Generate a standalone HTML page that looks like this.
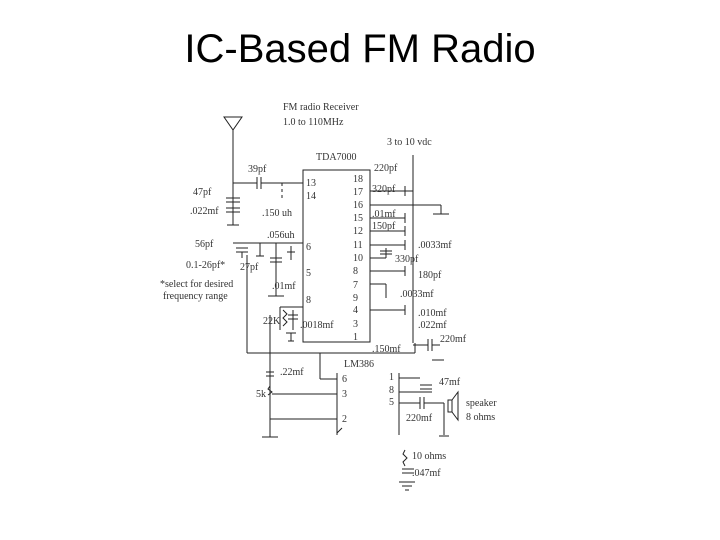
<!DOCTYPE html>
<html><head><style>
body{margin:0;background:#fff;}
svg{display:block;font-family:"Liberation Sans",sans-serif;}
.t{font-family:"Liberation Serif",serif;font-size:10px;fill:#333;}
</style></head><body>
<svg width="720" height="540" viewBox="0 0 720 540">
<text x="360" y="62" text-anchor="middle" font-size="40" fill="#000">IC-Based FM Radio</text>
<g stroke="#222" stroke-width="1" fill="none">
<polygon points="224,117 242,117 233,130"/>
<line x1="233" y1="130" x2="233" y2="225"/>
<line x1="227" y1="225" x2="239" y2="225"/>
<line x1="226" y1="198" x2="240" y2="198"/><line x1="226" y1="202" x2="240" y2="202"/>
<line x1="226" y1="208" x2="240" y2="208"/><line x1="226" y1="212" x2="240" y2="212"/>
<line x1="233" y1="183" x2="257" y2="183"/><line x1="257" y1="177" x2="257" y2="189"/>
<line x1="261" y1="177" x2="261" y2="189"/><line x1="261" y1="183" x2="303" y2="183"/>
<path d="M282 183 v18" stroke-dasharray="3,3"/>
<rect x="303" y="170" width="67" height="172"/>
<line x1="370" y1="191" x2="413" y2="191"/><line x1="370" y1="205" x2="413" y2="205"/>
<line x1="370" y1="218" x2="405" y2="218"/><line x1="370" y1="231" x2="405" y2="231"/>
<line x1="370" y1="245" x2="405" y2="245"/><line x1="370" y1="258" x2="386" y2="258"/>
<line x1="386" y1="248" x2="386" y2="258"/><line x1="380" y1="251" x2="392" y2="251"/><line x1="380" y1="254" x2="392" y2="254"/>
<line x1="370" y1="271" x2="405" y2="271"/><line x1="370" y1="284" x2="386" y2="284"/>
<line x1="386" y1="284" x2="386" y2="298"/>
<line x1="370" y1="310" x2="405" y2="310"/>
<line x1="405" y1="186" x2="405" y2="196"/><line x1="405" y1="213" x2="405" y2="223"/>
<line x1="405" y1="226" x2="405" y2="236"/><line x1="405" y1="240" x2="405" y2="250"/>
<line x1="405" y1="266" x2="405" y2="276"/><line x1="405" y1="305" x2="405" y2="315"/>
<line x1="413" y1="155" x2="413" y2="343"/>
<line x1="413" y1="205" x2="441" y2="205"/><line x1="441" y1="205" x2="441" y2="214"/>
<line x1="433" y1="214" x2="449" y2="214"/>
<line x1="413" y1="345" x2="428" y2="345"/><line x1="428" y1="339" x2="428" y2="351"/>
<line x1="432" y1="339" x2="432" y2="351"/><line x1="432" y1="345" x2="440" y2="345"/>
<line x1="415" y1="343" x2="415" y2="353"/>
<line x1="432" y1="360" x2="444" y2="360"/>
<line x1="233" y1="243" x2="303" y2="243"/>
<line x1="236" y1="248" x2="248" y2="248"/><line x1="236" y1="252" x2="248" y2="252"/>
<line x1="242" y1="252" x2="242" y2="258"/>
<line x1="247" y1="255" x2="247" y2="353"/>
<line x1="260" y1="243" x2="260" y2="256"/>
<line x1="256" y1="256" x2="264" y2="256"/>
<line x1="276" y1="243" x2="276" y2="296"/>
<line x1="270" y1="258" x2="282" y2="258"/><line x1="270" y1="262" x2="282" y2="262"/>
<line x1="268" y1="296" x2="284" y2="296"/>
<line x1="291" y1="246" x2="291" y2="260"/><line x1="287" y1="252" x2="295" y2="252"/>
<line x1="247" y1="353" x2="415" y2="353"/>
<line x1="280" y1="307" x2="303" y2="307"/>
<line x1="280" y1="307" x2="280" y2="330"/>
<line x1="270" y1="315" x2="270" y2="437"/>
<path d="M283 310 l4 4 l-4 4 l4 4 l-4 4"/>
<line x1="293" y1="310" x2="293" y2="330"/>
<line x1="288" y1="315" x2="298" y2="315"/><line x1="288" y1="319" x2="298" y2="319"/>
<line x1="286" y1="333" x2="296" y2="333"/>
<line x1="291" y1="333" x2="291" y2="341"/><line x1="288" y1="341" x2="294" y2="341"/>
<line x1="266" y1="372" x2="274" y2="372"/><line x1="266" y1="376" x2="274" y2="376"/>
<path d="M270 386 l-2 3 l4 3 l-4 3"/>
<line x1="272" y1="394" x2="337" y2="394"/>
<line x1="270" y1="419" x2="337" y2="419"/>
<line x1="262" y1="437" x2="278" y2="437"/>
<line x1="320" y1="353" x2="320" y2="379"/><line x1="320" y1="379" x2="337" y2="379"/>
<line x1="337" y1="373" x2="337" y2="435"/>
<line x1="337" y1="433" x2="342" y2="428"/>
<line x1="399" y1="373" x2="399" y2="435"/>
<line x1="399" y1="378" x2="420" y2="378"/>
<line x1="399" y1="392" x2="432" y2="392"/>
<line x1="420" y1="385" x2="432" y2="385"/><line x1="420" y1="389" x2="432" y2="389"/>
<line x1="399" y1="403" x2="420" y2="403"/>
<line x1="420" y1="397" x2="420" y2="409"/><line x1="424" y1="397" x2="424" y2="409"/>
<line x1="424" y1="403" x2="444" y2="403"/>
<line x1="444" y1="403" x2="444" y2="435"/>
<line x1="439" y1="436" x2="449" y2="436"/>
<rect x="448" y="400" width="4" height="12"/>
<polygon points="452,400 458,392 458,420 452,412"/>
<path d="M405 450 l-2 4 l4 4 l-4 4 l2 4"/>
<line x1="402" y1="469" x2="414" y2="469"/><line x1="402" y1="473" x2="414" y2="473"/>
<line x1="399" y1="482" x2="415" y2="482"/><line x1="402" y1="486" x2="412" y2="486"/>
<line x1="405" y1="490" x2="409" y2="490"/>
</g>
<g class="t">
<text x="283" y="110">FM radio Receiver</text>
<text x="283" y="125">1.0 to 110MHz</text>
<text x="387" y="145">3 to 10 vdc</text>
<text x="316" y="160">TDA7000</text>
<text x="374" y="171">220pf</text>
<text x="248" y="172">39pf</text>
<text x="193" y="195">47pf</text>
<text x="190" y="214">.022mf</text>
<text x="262" y="216">.150 uh</text>
<text x="267" y="238">.056uh</text>
<text x="195" y="247">56pf</text>
<text x="186" y="268">0.1-26pf*</text>
<text x="240" y="270">27pf</text>
<text x="272" y="289">.01mf</text>
<text x="160" y="287">*select for desired</text>
<text x="163" y="299">frequency range</text>
<text x="263" y="324">22K</text>
<text x="300" y="328">.0018mf</text>
<text x="306" y="186">13</text><text x="306" y="199">14</text>
<text x="306" y="250">6</text><text x="306" y="276">5</text><text x="306" y="303">8</text>
<text x="353" y="182">18</text><text x="353" y="195">17</text><text x="353" y="208">16</text>
<text x="353" y="221">15</text><text x="353" y="234">12</text><text x="353" y="248">11</text>
<text x="353" y="261">10</text><text x="353" y="274">8</text><text x="353" y="288">7</text>
<text x="353" y="301">9</text><text x="353" y="313">4</text><text x="353" y="327">3</text>
<text x="353" y="340">1</text>
<text x="372" y="192">320pf</text>
<text x="372" y="217">.01mf</text>
<text x="372" y="229">150pf</text>
<text x="418" y="248">.0033mf</text>
<text x="395" y="262">330pf</text>
<text x="418" y="278">180pf</text>
<text x="400" y="297">.0033mf</text>
<text x="418" y="316">.010mf</text>
<text x="418" y="328">.022mf</text>
<text x="440" y="342">220mf</text>
<text x="372" y="352">.150mf</text>
<text x="344" y="367">LM386</text>
<text x="280" y="375">.22mf</text>
<text x="256" y="397">5k</text>
<text x="342" y="382">6</text><text x="342" y="397">3</text><text x="342" y="422">2</text>
<text x="389" y="380">1</text><text x="389" y="393">8</text><text x="389" y="405">5</text>
<text x="439" y="385">47mf</text>
<text x="466" y="406">speaker</text>
<text x="466" y="420">8 ohms</text>
<text x="406" y="421">220mf</text>
<text x="412" y="459">10 ohms</text>
<text x="412" y="476">.047mf</text>
</g>
</svg>
</body></html>
